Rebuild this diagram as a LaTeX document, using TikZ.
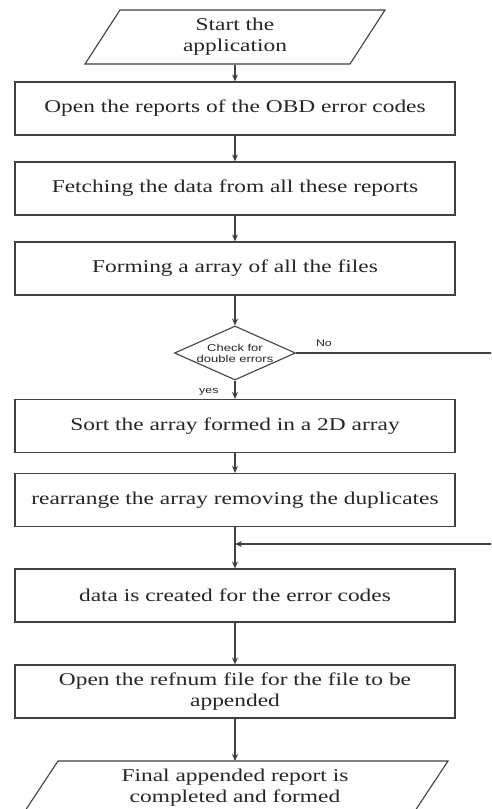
\documentclass[tikz,border=0pt]{standalone}
\usepackage{fontspec}
\setmainfont{Liberation Serif}[FakeStretch=1.3]
\newfontfamily\lblfont{Liberation Sans}[FakeStretch=1.3]
\usetikzlibrary{shapes.geometric,arrows.meta,calc}
\begin{document}
\begin{tikzpicture}[x=1pt,y=-1pt,
  line width=1.1pt,
  lc/.style={draw=black!75},
  stepbox/.style={lc,rectangle,minimum width=440pt,minimum height=53pt,inner sep=0pt,
     font=\fontsize{18}{21}\selectfont,align=center,text=black!85},
  iotext/.style={minimum width=200pt,minimum height=54pt,inner sep=0pt,
     font=\fontsize{18}{21}\selectfont,align=center,text=black!85},
  decide/.style={lc,diamond,minimum width=121pt,minimum height=54pt,inner sep=0pt,aspect=2.2,
     font=\lblfont\fontsize{10}{11}\selectfont,align=center,text=black!85},
  lbl/.style={font=\lblfont\fontsize{9.5}{11}\selectfont,text=black!85,inner sep=0pt},
  flow/.style={lc,-{Stealth[length=7pt,width=6pt]}}]
\clip (0,0) rectangle (491,809);
\fill[white] (0,0) rectangle (491,809);
% start
\node[iotext] (start) at (235,37) {Start the\\application};
\draw[lc] (120,10) -- (385,10) -- (350,64) -- (85,64) -- cycle;
\node[stepbox] (b1) at (235,108.5) {Open the reports of the OBD error codes};
\node[stepbox] (b2) at (235,188.5) {Fetching the data from all these reports};
\node[stepbox] (b3) at (235,268.5) {Forming a array of all the files};
\node[decide] (dec) at (235,353) {Check for\\double errors};
\node[stepbox] (b4) at (235,426) {Sort the array formed in a 2D array};
\node[stepbox] (b5) at (235,500) {rearrange the array removing the duplicates};
\node[stepbox] (b6) at (235,595.5) {data is created for the error codes};
\node[stepbox] (b7) at (235,691.5) {Open the refnum file for the file to be\\appended};
\node[iotext,minimum width=300pt] (fin) at (235,788) {Final appended report is\\completed and formed};
\draw[lc] (58,761) -- (448,761) -- (409,820) -- (19,820) -- cycle;
\coordinate (finTop) at (235,761);
\coordinate (noR) at (495,353);
\coordinate (backR) at (495,544);
\coordinate (merge) at (235,544);
% connectors
\draw[flow] (start.south) -- (b1.north);
\draw[flow] (b1) -- (b2);
\draw[flow] (b2) -- (b3);
\draw[flow] (b3) -- (dec.north);
\draw[flow] (dec.south) -- node[lbl,pos=0.6,left=16pt]{yes} (b4.north);
\draw[flow] (b4) -- (b5);
\draw[flow] (b5) -- (b6);
\draw[lc] (dec.east) -- node[lbl,pos=0.14,above=6pt]{No} (noR);
\draw[flow] (backR) -- (merge);
\draw[flow] (b6) -- (b7);
\draw[flow] (b7.south) -- (finTop);
\end{tikzpicture}
\end{document}
